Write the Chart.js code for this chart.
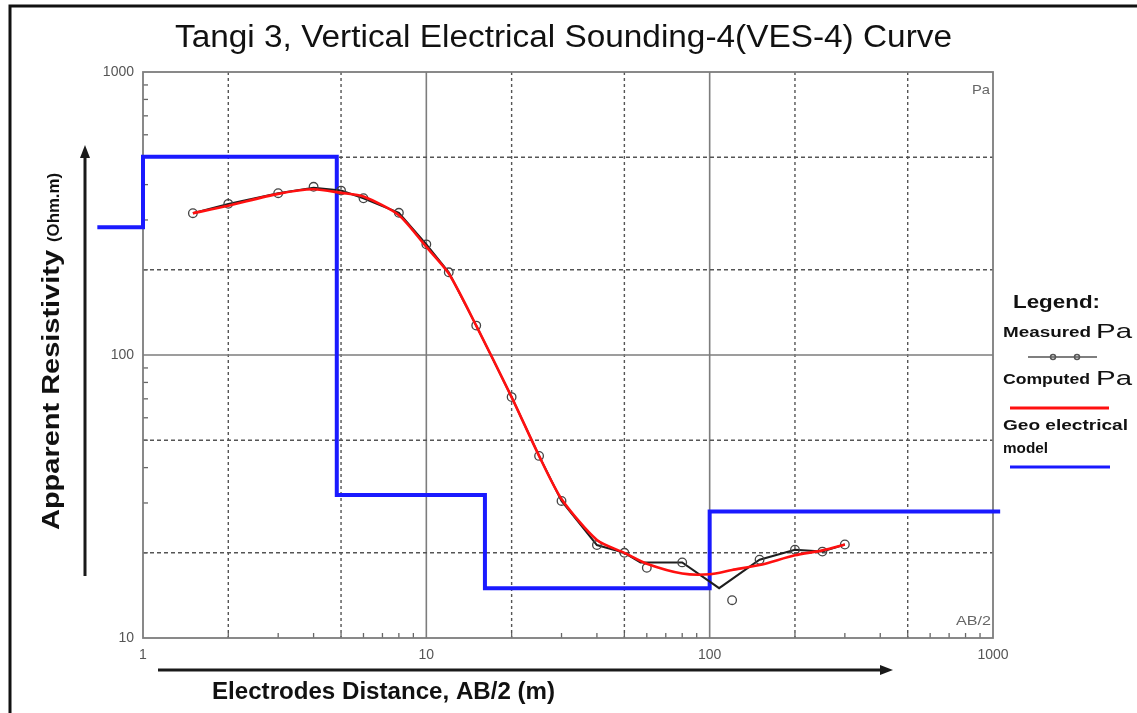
<!DOCTYPE html>
<html lang="en">
<head>
<meta charset="UTF-8">
<title>Tangi 3 VES-4 Curve</title>
<script src="https://cdn.jsdelivr.net/npm/chart.js@4.4.0/dist/chart.umd.min.js"></script>
<style>
  body { margin: 0; background: #fff; }
  #vesChart { display: block; }
</style>
</head>
<body>
<canvas id="vesChart" width="1137" height="713"></canvas>
<script>
  // measured apparent resistivity (circles)
  const measuredAB = [1.5, 2, 3, 4, 5, 6, 8, 10, 12, 15, 20, 25, 30, 40, 50, 60, 80, 120, 150, 200, 250, 300];
  const measuredRho = [317, 342, 373, 393, 381, 358, 318, 246, 196, 127, 71, 44, 30.5, 21.3, 20, 17.7, 18.5, 13.6, 18.9, 20.5, 20.2, 21.4];

  // black line joining the measured readings
  const measuredLineAB = [1.5, 2, 3, 4, 5, 6, 8, 10, 12, 15, 20, 25, 30, 40, 50, 57, 80, 108, 150, 200, 250, 300];
  const measuredLineRho = [317, 342, 373, 390, 381, 358, 318, 246, 196, 127, 71, 44, 30.5, 21.3, 20, 18.5, 18.5, 15, 18.9, 20.5, 20.2, 21.4];

  // computed (model response) curve
  const computedAB = [1.5, 2, 3, 4, 5, 6, 8, 10, 12, 15, 20, 25, 30, 40, 50, 60, 80, 100, 120, 150, 200, 250, 300];
  const computedRho = [317, 337, 371, 385, 374, 363, 312, 241, 194, 127, 71, 44, 31, 22.2, 20, 18.3, 16.9, 16.8, 17.4, 18.1, 19.6, 20.4, 21.4];

  // geo electrical model: layer boundaries (AB/2) and layer resistivities
  const layerBounds = [0.69, 1, 4.83, 16.1, 100, 1060];
  const layerRho = [283, 502, 32, 15, 28];

  // axis ticks
  const xGridVals = [1, 2, 5, 10, 20, 50, 100, 200, 500, 1000];
  const yGridVals = [10, 20, 50, 100, 200, 500, 1000];

  const toPoints = (xs, ys) => xs.map((x, i) => ({ x: x, y: ys[i] }));

  const modelPoints = [];
  layerRho.forEach((rho, i) => {
    modelPoints.push({ x: layerBounds[i], y: rho });
    modelPoints.push({ x: layerBounds[i + 1], y: rho });
  });

  const isDecade = v => Math.abs(Math.log10(v) - Math.round(Math.log10(v))) < 1e-6;

  // draw text squeezed/stretched to a given width
  function fitText(ctx, str, x, y, w, font) {
    ctx.font = font;
    const m = ctx.measureText(str).width;
    ctx.save();
    ctx.translate(x, y);
    ctx.scale(w / m, 1);
    ctx.textAlign = 'left';
    ctx.textBaseline = 'alphabetic';
    ctx.fillText(str, 0, 0);
    ctx.restore();
  }

  function arrow(ctx, x1, y1, x2, y2) {
    const ang = Math.atan2(y2 - y1, x2 - x1);
    ctx.save();
    ctx.strokeStyle = '#1a1a1a';
    ctx.fillStyle = '#1a1a1a';
    ctx.lineWidth = 3;
    ctx.beginPath();
    ctx.moveTo(x1, y1);
    ctx.lineTo(x2 - 10 * Math.cos(ang), y2 - 10 * Math.sin(ang));
    ctx.stroke();
    ctx.translate(x2, y2);
    ctx.rotate(ang);
    ctx.beginPath();
    ctx.moveTo(0, 0);
    ctx.lineTo(-13, -5);
    ctx.lineTo(-13, 5);
    ctx.closePath();
    ctx.fill();
    ctx.restore();
  }

  const vesDecor = {
    id: 'vesDecor',
    beforeDatasetsDraw(chart) {
      const { ctx, chartArea: a, scales: { x, y } } = chart;
      ctx.save();
      // grid
      xGridVals.forEach(v => {
        if (v === 1 || v === 1000) return;
        const px = x.getPixelForValue(v);
        ctx.beginPath();
        if (isDecade(v)) { ctx.setLineDash([]); ctx.strokeStyle = '#7d7d7d'; ctx.lineWidth = 1.6; }
        else { ctx.setLineDash([3, 3]); ctx.strokeStyle = '#555'; ctx.lineWidth = 1.4; }
        ctx.moveTo(px, a.top);
        ctx.lineTo(px, a.bottom);
        ctx.stroke();
      });
      yGridVals.forEach(v => {
        if (v === 10 || v === 1000) return;
        const py = y.getPixelForValue(v);
        ctx.beginPath();
        if (isDecade(v)) { ctx.setLineDash([]); ctx.strokeStyle = '#7d7d7d'; ctx.lineWidth = 1.6; }
        else { ctx.setLineDash([4, 3]); ctx.strokeStyle = '#555'; ctx.lineWidth = 1.4; }
        ctx.moveTo(a.left, py);
        ctx.lineTo(a.right, py);
        ctx.stroke();
      });
      ctx.setLineDash([]);
      // minor ticks
      ctx.strokeStyle = '#666';
      ctx.lineWidth = 1.3;
      [1, 10, 100].forEach(d => {
        for (let m = 2; m <= 9; m++) {
          const px = x.getPixelForValue(m * d);
          ctx.beginPath();
          ctx.moveTo(px, a.bottom);
          ctx.lineTo(px, a.bottom - 5);
          ctx.stroke();
        }
      });
      [10, 100].forEach(d => {
        for (let m = 2; m <= 9; m++) {
          const py = y.getPixelForValue(m * d);
          ctx.beginPath();
          ctx.moveTo(a.left, py);
          ctx.lineTo(a.left + 5, py);
          ctx.stroke();
        }
      });
      // plot box
      ctx.strokeStyle = '#7d7d7d';
      ctx.lineWidth = 1.8;
      ctx.strokeRect(a.left, a.top, a.right - a.left, a.bottom - a.top);
      ctx.restore();
    },
    afterDraw(chart) {
      const { ctx, chartArea: a } = chart;
      ctx.save();
      // outer frame
      ctx.strokeStyle = '#111';
      ctx.lineWidth = 3;
      ctx.beginPath();
      ctx.moveTo(10, 713);
      ctx.lineTo(10, 6);
      ctx.lineTo(1137, 6);
      ctx.stroke();

      ctx.fillStyle = '#111';
      fitText(ctx, 'Tangi 3, Vertical Electrical Sounding-4(VES-4) Curve', 175, 47, 777, '31px "Liberation Sans", Arial, sans-serif');
      fitText(ctx, 'Electrodes Distance, AB/2 (m)', 212, 699, 343, 'bold 23px "Liberation Sans", Arial, sans-serif');

      ctx.save();
      ctx.translate(59, 530);
      ctx.rotate(-Math.PI / 2);
      fitText(ctx, 'Apparent Resistivity', 0, 0, 280, 'bold 23px "Liberation Sans", Arial, sans-serif');
      fitText(ctx, '(Ohm.m)', 288, 0, 69, 'bold 17px "Liberation Sans", Arial, sans-serif');
      ctx.restore();

      arrow(ctx, 85, 576, 85, 145);
      arrow(ctx, 158, 670, 893, 670);

      // in-plot labels
      ctx.fillStyle = '#666';
      fitText(ctx, 'Pa', a.right - 21, a.top + 22, 18, '13px "Liberation Sans", Arial, sans-serif');
      fitText(ctx, 'AB/2', a.right - 37, a.bottom - 13, 35, '13px "Liberation Sans", Arial, sans-serif');

      // legend
      ctx.fillStyle = '#111';
      const bold = 'bold 14px "Liberation Sans", Arial, sans-serif';
      fitText(ctx, 'Legend:', 1013, 308, 87, 'bold 18px "Liberation Sans", Arial, sans-serif');
      fitText(ctx, 'Measured', 1003, 337, 88, bold);
      fitText(ctx, 'Pa', 1096, 338, 36, '21px "Liberation Sans", Arial, sans-serif');
      fitText(ctx, 'Computed', 1003, 384, 87, bold);
      fitText(ctx, 'Pa', 1096, 385, 36, '21px "Liberation Sans", Arial, sans-serif');
      fitText(ctx, 'Geo electrical', 1003, 430, 125, bold);
      fitText(ctx, 'model', 1003, 453, 45, bold);

      ctx.lineWidth = 1.5;
      ctx.strokeStyle = '#555';
      ctx.beginPath();
      ctx.moveTo(1028, 357);
      ctx.lineTo(1097, 357);
      ctx.stroke();
      [1053, 1077].forEach(cx => {
        ctx.beginPath();
        ctx.arc(cx, 357, 2.5, 0, Math.PI * 2);
        ctx.stroke();
      });
      ctx.lineWidth = 3;
      ctx.strokeStyle = '#ff1010';
      ctx.beginPath();
      ctx.moveTo(1010, 408);
      ctx.lineTo(1109, 408);
      ctx.stroke();
      ctx.strokeStyle = '#1a1aff';
      ctx.beginPath();
      ctx.moveTo(1010, 467);
      ctx.lineTo(1110, 467);
      ctx.stroke();
      ctx.restore();
    }
  };

  const tickFont = { family: '"Liberation Sans", Arial, sans-serif', size: 14 };

  new Chart(document.getElementById('vesChart').getContext('2d'), {
    type: 'line',
    data: {
      datasets: [
        {
          label: 'Computed Pa',
          data: toPoints(computedAB, computedRho),
          borderColor: '#ff1010',
          borderWidth: 2.6,
          pointRadius: 0,
          tension: 0.25,
          order: 0
        },
        {
          label: 'Measured Pa',
          data: toPoints(measuredAB, measuredRho),
          showLine: false,
          pointStyle: 'circle',
          pointRadius: 4.3,
          pointBorderWidth: 1.3,
          pointBorderColor: '#444',
          pointBackgroundColor: 'rgba(255,255,255,0)',
          order: 1
        },
        {
          label: 'Measured line',
          data: toPoints(measuredLineAB, measuredLineRho),
          borderColor: '#1e1e1e',
          borderWidth: 2,
          pointRadius: 0,
          tension: 0,
          order: 2
        },
        {
          label: 'Geo electrical model',
          data: modelPoints,
          borderColor: '#1a1aff',
          borderWidth: 4,
          pointRadius: 0,
          tension: 0,
          clip: false,
          order: 3
        }
      ]
    },
    options: {
      responsive: false,
      animation: false,
      devicePixelRatio: 1,
      layout: { padding: { left: 100, right: 144, top: 72, bottom: 50 } },
      plugins: {
        legend: { display: false },
        tooltip: { enabled: false },
        title: { display: false }
      },
      scales: {
        x: {
          type: 'logarithmic',
          min: 1,
          max: 1000,
          afterBuildTicks: s => { s.ticks = xGridVals.map(v => ({ value: v })); },
          afterFit: s => { s.height = 25; },
          grid: { display: false },
          border: { display: false },
          ticks: {
            autoSkip: false,
            maxRotation: 0,
            padding: 1,
            color: '#555',
            font: tickFont,
            callback: v => isDecade(v) ? String(v) : ''
          }
        },
        y: {
          type: 'logarithmic',
          min: 10,
          max: 1000,
          afterBuildTicks: s => { s.ticks = yGridVals.map(v => ({ value: v })); },
          afterFit: s => { s.width = 43; },
          grid: { display: false },
          border: { display: false },
          ticks: {
            autoSkip: false,
            padding: 1,
            color: '#555',
            font: tickFont,
            callback: v => isDecade(v) ? String(v) : ''
          }
        }
      }
    },
    plugins: [vesDecor]
  });
</script>
</body>
</html>
